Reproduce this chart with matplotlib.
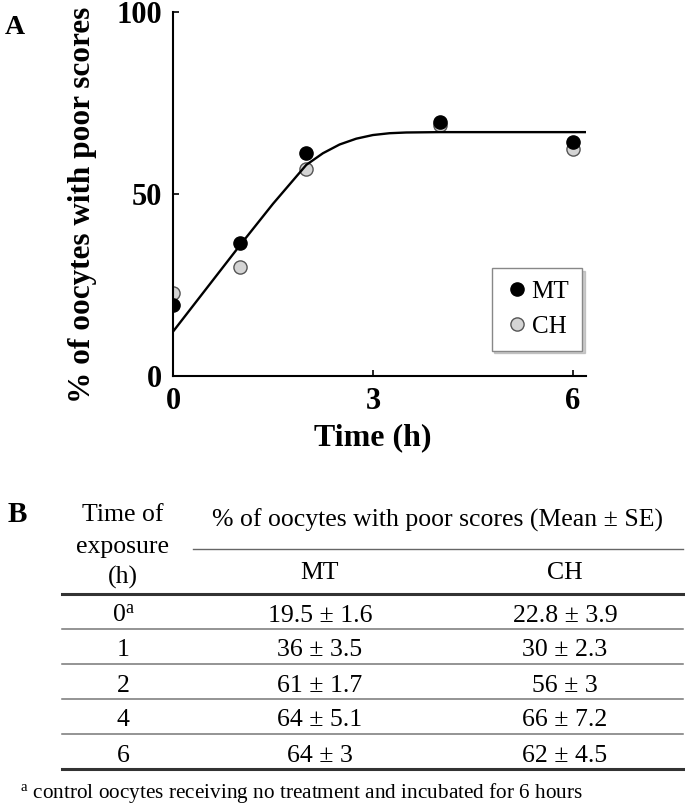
import matplotlib
matplotlib.use('Agg')
import matplotlib.pyplot as plt

plt.rcParams['font.family'] = ['Liberation Serif', 'DejaVu Serif']
plt.rcParams['mathtext.fontset'] = 'custom'
plt.rcParams['mathtext.rm'] = 'Liberation Serif'
plt.rcParams['mathtext.it'] = 'Liberation Serif:italic'
plt.rcParams['mathtext.bf'] = 'Liberation Serif:bold'

# panel A: values
t_pts = [0, 1, 2, 4, 6]
mt_plot = [19.5, 36.5, 61.3, 69.9, 64.4]
ch_plot = [22.8, 30.0, 56.8, 69.0, 62.3]

# fitted curve, read point by point
fit_t = [0, 0.5, 1, 1.5, 2, 2.25, 2.5, 2.75, 3, 3.25, 3.5, 4, 5, 6.2]
fit_y = [12.2, 24.0, 35.8, 47.3, 58.0, 61.2, 63.6, 65.2, 66.2, 66.7, 66.9, 67.0, 67.0, 67.0]

# panel B: table
times = ['0', '1', '2', '4', '6']
mt_mean = [19.5, 36, 61, 64, 64]
mt_se = [1.6, 3.5, 1.7, 5.1, 3]
ch_mean = [22.8, 30, 56, 66, 62]
ch_se = [3.9, 2.3, 3, 7.2, 4.5]

fig = plt.figure(figsize=(6.85, 8.06), dpi=100)

# ---- panel A
ax = fig.add_axes([0.2526, 0.5335, 0.603, 0.4516])
ax.plot(fit_t, fit_y, color='black', lw=1.7, zorder=3)
ax.plot(t_pts, ch_plot, 'o', ms=9.5, mfc='#d4d4d4', mec='#555555', mew=1.0,
        label='CH', zorder=2)
ax.plot(t_pts, mt_plot, 'o', ms=9.5, mfc='black', mec='black', label='MT', zorder=4)

ax.set_xlim(0, 6.2)
ax.set_ylim(0, 100)
ax.set_xticks([0, 3, 6])
ax.set_yticks([0, 50, 100])
for s in ['top', 'right']:
    ax.spines[s].set_visible(False)
for s in ['left', 'bottom']:
    ax.spines[s].set_linewidth(1.5)
ax.tick_params(direction='in', length=4.5, width=1.2, labelsize=22, pad=8)
for lab in ax.get_xticklabels() + ax.get_yticklabels():
    lab.set_fontweight('bold')

ax.set_xlabel('Time (h)', fontsize=23, fontweight='bold', va='top')
ax.xaxis.set_label_coords(0.484, -0.13)
ax.set_ylabel('% of oocytes with poor scores', fontsize=22.5, fontweight='bold')
ax.yaxis.set_label_coords(-0.185, 0.47)

h, l = ax.get_legend_handles_labels()
leg = ax.legend(h[::-1], l[::-1], loc='lower right', bbox_to_anchor=(0.99, 0.07),
                fontsize=18, frameon=True, fancybox=False,
                shadow={'color': '#aaaaaa', 'alpha': 0.6, 'ox': 2, 'oy': -2},
                handletextpad=0.1, handlelength=1.0, borderpad=0.5,
                labelspacing=0.5, borderaxespad=0)
leg.get_frame().set_edgecolor('#888888')
leg.get_frame().set_linewidth(1.0)

fig.text(5 / 685, 1 - 34 / 806, 'A', fontsize=20, fontweight='bold')

# ---- panel B (drawn on an overlay in page pixels)
tb = fig.add_axes([0, 0, 1, 1])
tb.set_xlim(0, 685)
tb.set_ylim(806, 0)
tb.axis('off')

fs = 18.5
col_x = [123, 320, 565]
tb.text(17, 514, 'B', fontsize=21, fontweight='bold', ha='center', va='center')
tb.text(col_x[0], 515, 'Time of', fontsize=fs, ha='center', va='center')
tb.text(col_x[0], 547, 'exposure', fontsize=fs, ha='center', va='center')
tb.text(col_x[0], 577, '(h)', fontsize=fs, ha='center', va='center')
tb.text(438, 520, '% of oocytes with poor scores (Mean ± SE)', fontsize=fs,
        ha='center', va='center')
tb.text(col_x[1], 573, 'MT', fontsize=fs, ha='center', va='center')
tb.text(col_x[2], 573, 'CH', fontsize=fs, ha='center', va='center')

tb.plot([193, 683], [549, 549], color='#666666', lw=1.0)
tb.plot([62, 683], [594, 594], color='#333333', lw=2.2)
tb.plot([62, 683], [769, 769], color='#333333', lw=2.2)

row_top = 598
row_h = 35.0
for i, t in enumerate(times):
    yc = row_top + row_h * (i + 0.5)
    lab = t + '$^{\\mathrm{a}}$' if i == 0 else t
    tb.text(col_x[0], yc, lab, fontsize=fs, ha='center', va='center')
    tb.text(col_x[1], yc, '{:g} ± {:g}'.format(mt_mean[i], mt_se[i]), fontsize=fs,
            ha='center', va='center')
    tb.text(col_x[2], yc, '{:g} ± {:g}'.format(ch_mean[i], ch_se[i]), fontsize=fs,
            ha='center', va='center')
    if i < len(times) - 1:
        yl = row_top + row_h * (i + 1) - 4
        tb.plot([62, 683], [yl, yl], color='#777777', lw=1.1)

tb.text(20, 793, '$^{\\mathrm{a}}$ control oocytes receiving no treatment and incubated for 6 hours',
        fontsize=15.3, ha='left', va='center')

fig.savefig('out.png', dpi=100)
